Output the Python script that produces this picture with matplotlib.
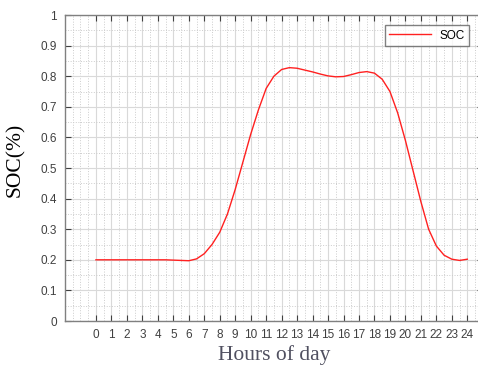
import numpy as np
import matplotlib.pyplot as plt
from matplotlib.ticker import MultipleLocator

# hourly SOC profile (half-hour steps)
hours = [0, 0.5, 1, 1.5, 2, 2.5, 3, 3.5, 4, 4.5, 5, 5.5, 6, 6.5, 7, 7.5, 8, 8.5,
         9, 9.5, 10, 10.5, 11, 11.5, 12, 12.5, 13, 13.5, 14, 14.5, 15, 15.5, 16,
         16.5, 17, 17.5, 18, 18.5, 19, 19.5, 20, 20.5, 21, 21.5, 22, 22.5, 23,
         23.5, 24]
soc = [0.2, 0.2, 0.2, 0.2, 0.2, 0.2, 0.2, 0.2, 0.2, 0.2, 0.199, 0.198, 0.197,
       0.203, 0.22, 0.25, 0.29, 0.35, 0.43, 0.52, 0.61, 0.69, 0.76, 0.80, 0.822,
       0.828, 0.826, 0.82, 0.814, 0.807, 0.801, 0.798, 0.799, 0.805, 0.812,
       0.815, 0.81, 0.79, 0.75, 0.68, 0.59, 0.49, 0.39, 0.30, 0.245, 0.215,
       0.202, 0.198, 0.202]
xticks = list(range(0, 25))

fig = plt.figure(figsize=(4.78, 3.65), dpi=100)
ax = fig.add_axes([0.136, 0.1205, 0.874, 0.8384])

ax.plot(hours, soc, color='#ff2020', linewidth=1.0, label='SOC')

ax.set_xlim(-2, 25)
ax.set_ylim(0, 1)
ax.set_xticks(xticks)
ax.set_yticks(np.round(np.arange(0, 1.01, 0.1), 1))
ax.set_yticklabels(['0', '0.1', '0.2', '0.3', '0.4', '0.5', '0.6', '0.7', '0.8', '0.9', '1'])
ax.xaxis.set_minor_locator(MultipleLocator(0.5))
ax.yaxis.set_minor_locator(MultipleLocator(0.05))

ax.grid(which='major', color='#d9d9d9', linewidth=0.8)
ax.grid(which='minor', color='#cccccc', linestyle=':', linewidth=0.7)
ax.set_axisbelow(True)

ax.tick_params(which='major', direction='in', length=4, top=True, right=True,
               labelsize=8.5, colors='#404040', pad=6)
ax.tick_params(which='minor', length=0)
for lab in ax.get_xticklabels() + ax.get_yticklabels():
    lab.set_family('Liberation Sans')
for s in ax.spines.values():
    s.set_color('#808080')
    s.set_linewidth(1.0)

ax.set_ylabel('SOC(%)', fontsize=15.5, family='Liberation Serif', color='black')
ax.yaxis.set_label_coords(-0.095, 0.525)
ax.set_xlabel('Hours of day', fontsize=15.5, family='Liberation Serif', color='#505060', labelpad=3)

leg = ax.legend(loc='upper right', bbox_to_anchor=(0.982, 0.985),
                prop={'family': 'Liberation Sans', 'size': 8.5}, fancybox=False,
                edgecolor='#606060', handlelength=3.5, borderpad=0.35)
leg.get_frame().set_linewidth(1.0)

plt.savefig('out.png', dpi=100)
